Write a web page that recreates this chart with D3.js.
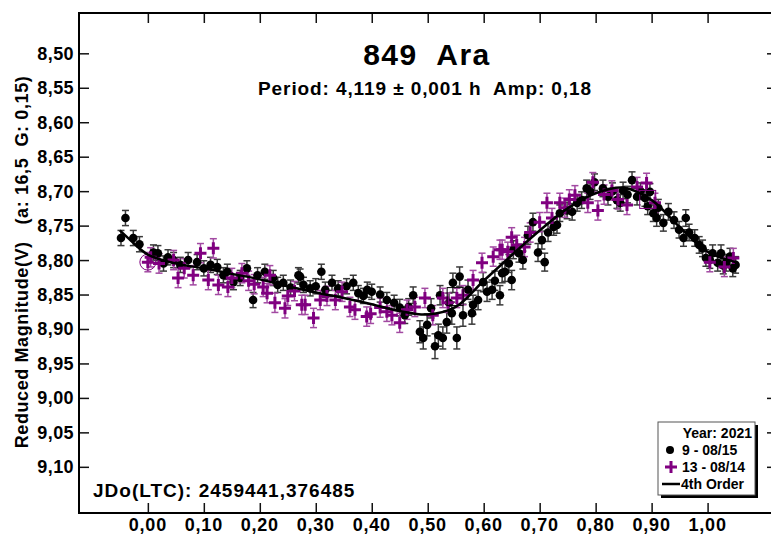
<!DOCTYPE html>
<html lang="en">
<head>
<meta charset="UTF-8">
<title>849 Ara lightcurve</title>
<script src="https://d3js.org/d3.v7.min.js"></script>
<style>
    body { margin: 0; background: #fff; }
    svg { display: block; font-family: 'Liberation Sans', Arial, sans-serif; font-weight: bold; }
</style>
</head>
<body>
<div id="chart"></div>
<script>
// session 9 - 08/15 : [phase, reduced mag, error]
const s9Points = [
    [-0.040, 8.739, 0.011], [-0.048, 8.768, 0.011], [-0.026, 8.768, 0.011], [-0.015, 8.777, 0.011],
    [0.010, 8.789, 0.011], [0.018, 8.790, 0.011], [0.028, 8.805, 0.011], [0.036, 8.796, 0.011],
    [0.046, 8.800, 0.011], [0.058, 8.807, 0.011], [0.072, 8.800, 0.011], [0.088, 8.803, 0.011],
    [0.100, 8.812, 0.011], [0.112, 8.807, 0.011], [0.124, 8.810, 0.011], [0.135, 8.822, 0.011],
    [0.142, 8.817, 0.011], [0.153, 8.832, 0.011], [0.165, 8.826, 0.011], [0.177, 8.812, 0.011],
    [0.188, 8.858, 0.011], [0.196, 8.822, 0.011], [0.209, 8.817, 0.011], [0.224, 8.826, 0.011],
    [0.232, 8.836, 0.011], [0.242, 8.833, 0.011], [0.255, 8.840, 0.011], [0.269, 8.822, 0.011],
    [0.272, 8.824, 0.011], [0.278, 8.836, 0.011], [0.290, 8.841, 0.011], [0.300, 8.838, 0.011],
    [0.310, 8.817, 0.011], [0.317, 8.843, 0.011], [0.329, 8.833, 0.011], [0.340, 8.841, 0.011],
    [0.355, 8.838, 0.011], [0.367, 8.833, 0.011], [0.376, 8.848, 0.011], [0.385, 8.852, 0.011],
    [0.392, 8.843, 0.011], [0.400, 8.846, 0.011], [0.415, 8.850, 0.011], [0.427, 8.858, 0.011],
    [0.440, 8.862, 0.011], [0.450, 8.869, 0.012], [0.459, 8.880, 0.012], [0.466, 8.868, 0.012],
    [0.474, 8.851, 0.012], [0.486, 8.904, 0.016], [0.492, 8.913, 0.016], [0.499, 8.894, 0.016],
    [0.506, 8.870, 0.014], [0.513, 8.925, 0.018], [0.519, 8.909, 0.016], [0.522, 8.851, 0.014],
    [0.527, 8.913, 0.016], [0.534, 8.890, 0.016], [0.538, 8.862, 0.014], [0.543, 8.877, 0.016],
    [0.545, 8.833, 0.014], [0.552, 8.913, 0.016], [0.557, 8.824, 0.014], [0.563, 8.880, 0.016],
    [0.572, 8.843, 0.014], [0.579, 8.877, 0.016], [0.581, 8.865, 0.014], [0.590, 8.858, 0.014],
    [0.599, 8.832, 0.014], [0.606, 8.846, 0.014], [0.615, 8.843, 0.014], [0.620, 8.830, 0.014],
    [0.629, 8.851, 0.014], [0.633, 8.819, 0.014], [0.638, 8.817, 0.014], [0.645, 8.805, 0.013],
    [0.650, 8.829, 0.014], [0.653, 8.785, 0.013], [0.663, 8.790, 0.013], [0.670, 8.800, 0.013],
    [0.679, 8.764, 0.013], [0.688, 8.745, 0.013], [0.697, 8.789, 0.013], [0.704, 8.771, 0.013],
    [0.709, 8.803, 0.013], [0.715, 8.760, 0.013], [0.725, 8.752, 0.012], [0.731, 8.749, 0.012],
    [0.736, 8.732, 0.012], [0.749, 8.728, 0.012], [0.758, 8.730, 0.012], [0.767, 8.717, 0.012],
    [0.775, 8.713, 0.012], [0.784, 8.696, 0.012], [0.790, 8.700, 0.012], [0.798, 8.687, 0.012],
    [0.813, 8.696, 0.012], [0.822, 8.708, 0.012], [0.830, 8.700, 0.012], [0.838, 8.713, 0.012],
    [0.844, 8.717, 0.012], [0.849, 8.699, 0.012], [0.857, 8.705, 0.012], [0.865, 8.684, 0.012],
    [0.874, 8.708, 0.012], [0.880, 8.700, 0.012], [0.888, 8.710, 0.012], [0.893, 8.722, 0.012],
    [0.897, 8.701, 0.012], [0.903, 8.732, 0.012], [0.909, 8.739, 0.012], [0.912, 8.724, 0.012],
    [0.921, 8.746, 0.012], [0.930, 8.730, 0.012], [0.940, 8.742, 0.012], [0.949, 8.756, 0.012],
    [0.957, 8.768, 0.012], [0.961, 8.739, 0.012], [0.967, 8.760, 0.012], [0.977, 8.768, 0.012],
    [0.985, 8.778, 0.012], [0.991, 8.783, 0.012], [0.997, 8.797, 0.012], [1.004, 8.800, 0.012],
    [1.009, 8.790, 0.012], [1.018, 8.804, 0.012], [1.024, 8.790, 0.012], [1.028, 8.808, 0.012],
    [1.033, 8.804, 0.012], [1.040, 8.795, 0.012], [1.045, 8.812, 0.012], [1.050, 8.807, 0.012]
];

// session 13 - 08/14 : [phase, reduced mag, error]
const s13Points = [
    [0.000, 8.803, 0.014], [0.005, 8.796, 0.014], [0.020, 8.805, 0.014], [0.046, 8.800, 0.014],
    [0.054, 8.826, 0.014], [0.065, 8.812, 0.014], [0.081, 8.822, 0.014], [0.094, 8.790, 0.014],
    [0.108, 8.829, 0.014], [0.117, 8.783, 0.014], [0.126, 8.836, 0.014], [0.143, 8.839, 0.014],
    [0.150, 8.826, 0.014], [0.168, 8.819, 0.014], [0.180, 8.830, 0.014], [0.190, 8.835, 0.014],
    [0.206, 8.839, 0.014], [0.213, 8.848, 0.014], [0.218, 8.822, 0.014], [0.227, 8.862, 0.014],
    [0.245, 8.870, 0.014], [0.250, 8.852, 0.014], [0.262, 8.845, 0.014], [0.275, 8.865, 0.014],
    [0.281, 8.865, 0.014], [0.296, 8.884, 0.014], [0.308, 8.858, 0.014], [0.320, 8.852, 0.014],
    [0.335, 8.858, 0.014], [0.347, 8.846, 0.014], [0.361, 8.868, 0.014], [0.370, 8.872, 0.014],
    [0.391, 8.882, 0.014], [0.398, 8.878, 0.014], [0.415, 8.869, 0.014], [0.427, 8.875, 0.014],
    [0.436, 8.880, 0.014], [0.450, 8.891, 0.014], [0.463, 8.872, 0.014], [0.477, 8.868, 0.014],
    [0.495, 8.855, 0.014], [0.509, 8.880, 0.014], [0.527, 8.855, 0.014], [0.536, 8.862, 0.014],
    [0.552, 8.855, 0.014], [0.563, 8.851, 0.014], [0.581, 8.829, 0.014], [0.597, 8.804, 0.014],
    [0.617, 8.795, 0.014], [0.629, 8.785, 0.014], [0.633, 8.785, 0.014], [0.643, 8.788, 0.014],
    [0.650, 8.767, 0.014], [0.659, 8.778, 0.014], [0.673, 8.781, 0.014], [0.683, 8.760, 0.014],
    [0.700, 8.745, 0.014], [0.713, 8.717, 0.014], [0.722, 8.739, 0.014], [0.736, 8.717, 0.014],
    [0.745, 8.724, 0.014], [0.753, 8.712, 0.014], [0.763, 8.706, 0.014], [0.786, 8.717, 0.014],
    [0.795, 8.687, 0.014], [0.804, 8.728, 0.014], [0.815, 8.705, 0.014], [0.829, 8.699, 0.014],
    [0.840, 8.712, 0.014], [0.856, 8.720, 0.014], [0.874, 8.694, 0.014], [0.891, 8.688, 0.014],
    [0.906, 8.717, 0.014], [1.004, 8.803, 0.014], [1.030, 8.810, 0.014], [1.046, 8.797, 0.014]
];

// 4th order Fourier fit: [phase, mag]
const fitPhase = [-0.05, -0.03, 0.00, 0.05, 0.10, 0.15, 0.20, 0.25, 0.30, 0.35, 0.40, 0.45,
    0.50, 0.55, 0.60, 0.65, 0.70, 0.75, 0.80, 0.85, 0.90, 0.95, 1.00, 1.05];
const fitMag = [8.757, 8.772, 8.792, 8.805, 8.812, 8.820, 8.828, 8.838, 8.847, 8.855, 8.864, 8.874,
    8.879, 8.868, 8.830, 8.793, 8.757, 8.725, 8.703, 8.695, 8.713, 8.752, 8.788, 8.803];

// points the software framed: [phase, mag, series, shape]
const flagged = [[0.000, 8.803, 13, 'circle'], [0.549, 8.853, 9, 'box'], [0.893, 8.712, 13, 'box']];

const xTicks = [0, 0.1, 0.2, 0.3, 0.4, 0.5, 0.6, 0.7, 0.8, 0.9, 1.0];
const yTicks = [8.50, 8.55, 8.60, 8.65, 8.70, 8.75, 8.80, 8.85, 8.90, 8.95, 9.00, 9.05, 9.10];

const width = 771, height = 535;
const plotLeft = 79, plotRight = 777, plotTop = 13, plotBottom = 513;
const purple = '#800080';

const x = d3.scaleLinear().domain([-0.123, 1.124]).range([plotLeft, plotRight]);
const y = d3.scaleLinear().domain([8.4415, 9.167]).range([plotTop, plotBottom]);
const fmt = v => d3.format('.2f')(v).replace('.', ',');

const svg = d3.select('#chart').append('svg')
    .attr('width', width)
    .attr('height', height);

// axes: ticks point inward on all four sides
svg.append('g')
    .attr('transform', `translate(${plotLeft},0)`)
    .call(d3.axisRight(y).tickValues(yTicks).tickSize(10).tickFormat(''))
    .call(g => g.select('.domain').remove());
svg.append('g')
    .attr('transform', `translate(${plotRight},0)`)
    .call(d3.axisLeft(y).tickValues(yTicks).tickSize(10).tickFormat(''))
    .call(g => g.select('.domain').remove());
svg.append('g')
    .attr('transform', `translate(0,${plotBottom})`)
    .call(d3.axisTop(x).tickValues(xTicks).tickSize(10).tickFormat(''))
    .call(g => g.select('.domain').remove());
svg.append('g')
    .attr('transform', `translate(0,${plotTop})`)
    .call(d3.axisBottom(x).tickValues(xTicks).tickSize(10).tickFormat(''))
    .call(g => g.select('.domain').remove());
svg.selectAll('.tick line').attr('stroke', '#111').attr('stroke-width', 1.5);

svg.append('g').selectAll('text')
    .data(yTicks).enter().append('text')
    .attr('x', plotLeft - 5)
    .attr('y', d => y(d) + 6.5)
    .attr('text-anchor', 'end')
    .style('font-size', '18px')
    .style('letter-spacing', '0.4px')
    .text(fmt);

svg.append('g').selectAll('text')
    .data(xTicks).enter().append('text')
    .attr('x', d => x(d))
    .attr('y', 531)
    .attr('text-anchor', 'middle')
    .style('font-size', '18px')
    .style('letter-spacing', '0.8px')
    .text(fmt);

svg.append('rect')
    .attr('x', plotLeft).attr('y', plotTop)
    .attr('width', plotRight - plotLeft).attr('height', plotBottom - plotTop)
    .attr('fill', 'none').attr('stroke', '#000').attr('stroke-width', 2);

// error bars
function errorBars(data, color, cls) {
    const g = svg.append('g').attr('class', cls).attr('stroke', color).attr('stroke-width', 1.5);
    g.selectAll('.bar').data(data).enter().append('line')
        .attr('x1', d => x(d[0])).attr('x2', d => x(d[0]))
        .attr('y1', d => y(d[1] - d[2])).attr('y2', d => y(d[1] + d[2]));
    g.selectAll('.capTop').data(data).enter().append('line')
        .attr('x1', d => x(d[0]) - 3.5).attr('x2', d => x(d[0]) + 3.5)
        .attr('y1', d => y(d[1] - d[2])).attr('y2', d => y(d[1] - d[2]));
    g.selectAll('.capBottom').data(data).enter().append('line')
        .attr('x1', d => x(d[0]) - 3.5).attr('x2', d => x(d[0]) + 3.5)
        .attr('y1', d => y(d[1] + d[2])).attr('y2', d => y(d[1] + d[2]));
}
errorBars(s9Points, '#3a3a3a', 'err9');
errorBars(s13Points, '#a24aa2', 'err13');

svg.append('g').selectAll('circle')
    .data(s9Points).enter().append('circle')
    .attr('cx', d => x(d[0]))
    .attr('cy', d => y(d[1]))
    .attr('r', 4.3)
    .attr('fill', '#000');

svg.append('g').selectAll('path')
    .data(s13Points).enter().append('path')
    .attr('d', d => `M${x(d[0]) - 6},${y(d[1])}h12M${x(d[0])},${y(d[1]) - 6}v12`)
    .attr('stroke', purple)
    .attr('stroke-width', 3);

// framed points
svg.append('g').selectAll('.flag')
    .data(flagged).enter().append(d => document.createElementNS('http://www.w3.org/2000/svg', d[3] === 'circle' ? 'circle' : 'rect'))
    .each(function (d) {
        const el = d3.select(this)
            .attr('fill', 'none')
            .attr('stroke', d[2] === 13 ? purple : '#000')
            .attr('stroke-width', 1);
        if (d[3] === 'circle') {
            el.attr('cx', x(d[0])).attr('cy', y(d[1])).attr('r', 8);
        } else {
            el.attr('x', x(d[0]) - 8).attr('y', y(d[1]) - 9).attr('width', 16).attr('height', 18);
        }
    });

// fit line
const fitLine = d3.line()
    .x(d => x(d[0]))
    .y(d => y(d[1]))
    .curve(d3.curveCatmullRom);
svg.append('path')
    .datum(fitPhase.map((p, i) => [p, fitMag[i]]))
    .attr('d', fitLine)
    .attr('fill', 'none')
    .attr('stroke', '#000')
    .attr('stroke-width', 2.5);

// titles
svg.append('text')
    .attr('x', 427).attr('y', 65)
    .attr('text-anchor', 'middle')
    .style('font-size', '30px')
    .style('letter-spacing', '1.5px')
    .style('white-space', 'pre')
    .text('849  Ara');
svg.append('text')
    .attr('x', 425).attr('y', 95)
    .attr('text-anchor', 'middle')
    .style('font-size', '19px')
    .style('letter-spacing', '0.9px')
    .style('white-space', 'pre')
    .text('Period: 4,119 ± 0,001 h  Amp: 0,18');

svg.append('text')
    .attr('transform', 'rotate(-90)')
    .attr('x', -262).attr('y', 28)
    .attr('text-anchor', 'middle')
    .style('font-size', '18px')
    .style('letter-spacing', '0.6px')
    .style('white-space', 'pre')
    .text('Reduced Magnitude(V)   (a: 16,5  G: 0,15)');

svg.append('text')
    .attr('x', 93).attr('y', 497)
    .style('font-size', '19px')
    .style('letter-spacing', '1px')
    .text('JDo(LTC): 2459441,376485');

// legend
const legend = svg.append('g').attr('class', 'legend').attr('transform', 'translate(658,422)');
legend.append('rect')
    .attr('x', 3).attr('y', 3).attr('width', 97).attr('height', 73)
    .attr('fill', '#000');
legend.append('rect')
    .attr('width', 97).attr('height', 73)
    .attr('fill', '#fff').attr('stroke', '#555').attr('stroke-width', 1);
legend.append('text')
    .attr('x', 94).attr('y', 16)
    .attr('text-anchor', 'end')
    .style('font-size', '14px')
    .text('Year: 2021');
legend.append('circle').attr('cx', 12).attr('cy', 28).attr('r', 4).attr('fill', '#000');
legend.append('text').attr('x', 24).attr('y', 33).style('font-size', '14px').text('9 - 08/15');
legend.append('path').attr('d', 'M7,45h12M13,39v12').attr('stroke', purple).attr('stroke-width', 3);
legend.append('text').attr('x', 24).attr('y', 50).style('font-size', '14px').text('13 - 08/14');
legend.append('line').attr('x1', 4).attr('x2', 22).attr('y1', 62).attr('y2', 62)
    .attr('stroke', '#000').attr('stroke-width', 2.5);
legend.append('text').attr('x', 23).attr('y', 67).style('font-size', '14px').text('4th Order');
</script>
</body>
</html>
